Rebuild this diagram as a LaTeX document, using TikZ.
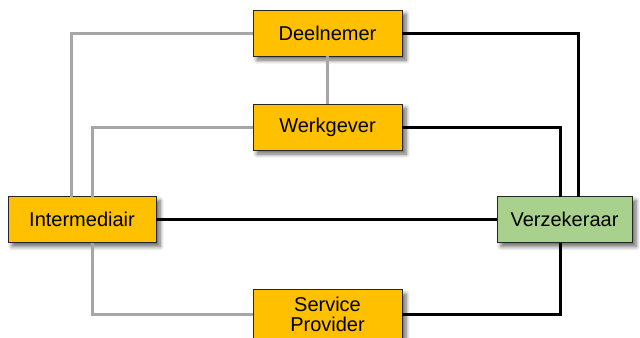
\documentclass[tikz,border=0pt]{standalone}
\usepackage{fontspec}
\setmainfont{Liberation Sans}
\usetikzlibrary{positioning,shadows.blur}
\definecolor{boxorange}{RGB}{255,192,0}
\definecolor{boxgreen}{RGB}{169,209,142}
\definecolor{linegray}{RGB}{166,166,166}
\begin{document}
\begin{tikzpicture}[x=0.5pt,y=-0.5pt,
	box/.style={minimum height=23pt,outer sep=0pt,draw=black!85,line width=0.5pt,fill=boxorange,
		blur shadow={shadow xshift=2pt,shadow yshift=-2pt,shadow blur steps=6,shadow opacity=60},
		font=\fontsize{10}{11}\selectfont,align=center},
	grayline/.style={draw=linegray,line width=1.5pt},
	blackline/.style={draw=black,line width=1.5pt}]
	\useasboundingbox (0,0) rectangle (640,337);
	\node [box,minimum width=74.5pt] at (327.5,33) (Deel) {Deelnemer};
	\node [box,minimum width=74.5pt] at (327.5,127) (Werk) {Werkgever};
	\node [box,minimum width=74pt] at (82,219.5) (Inter) {Intermediair};
	\node [box,minimum width=67.5pt,fill=boxgreen] at (564.5,219.5) (Verz) {Verzekeraar};
	\node [box,minimum width=74.5pt] at (327.5,314) (Serv) {Service\\[-1pt]Provider};
	% grijze verbindingen
	\begin{scope}[on background layer/.try]
	\draw [grayline] (Deel.west) -| ([xshift=-5.5pt]Inter.north);
	\draw [grayline] (Werk.west) -| ([xshift=5pt]Inter.north);
	\draw [grayline] ([xshift=5pt]Inter.south) |- (Serv.west);
	\draw [grayline] (Deel.south) -- (Werk.north);
	% zwarte verbindingen
	\draw [blackline] (Deel.east) -| ([xshift=6.75pt]Verz.north);
	\draw [blackline] (Werk.east) -| ([xshift=-2.25pt]Verz.north);
	\draw [blackline] (Inter.east) -- (Verz.west);
	\draw [blackline] ([xshift=-2.25pt]Verz.south) |- (Serv.east);
	\end{scope}
\end{tikzpicture}
\end{document}
